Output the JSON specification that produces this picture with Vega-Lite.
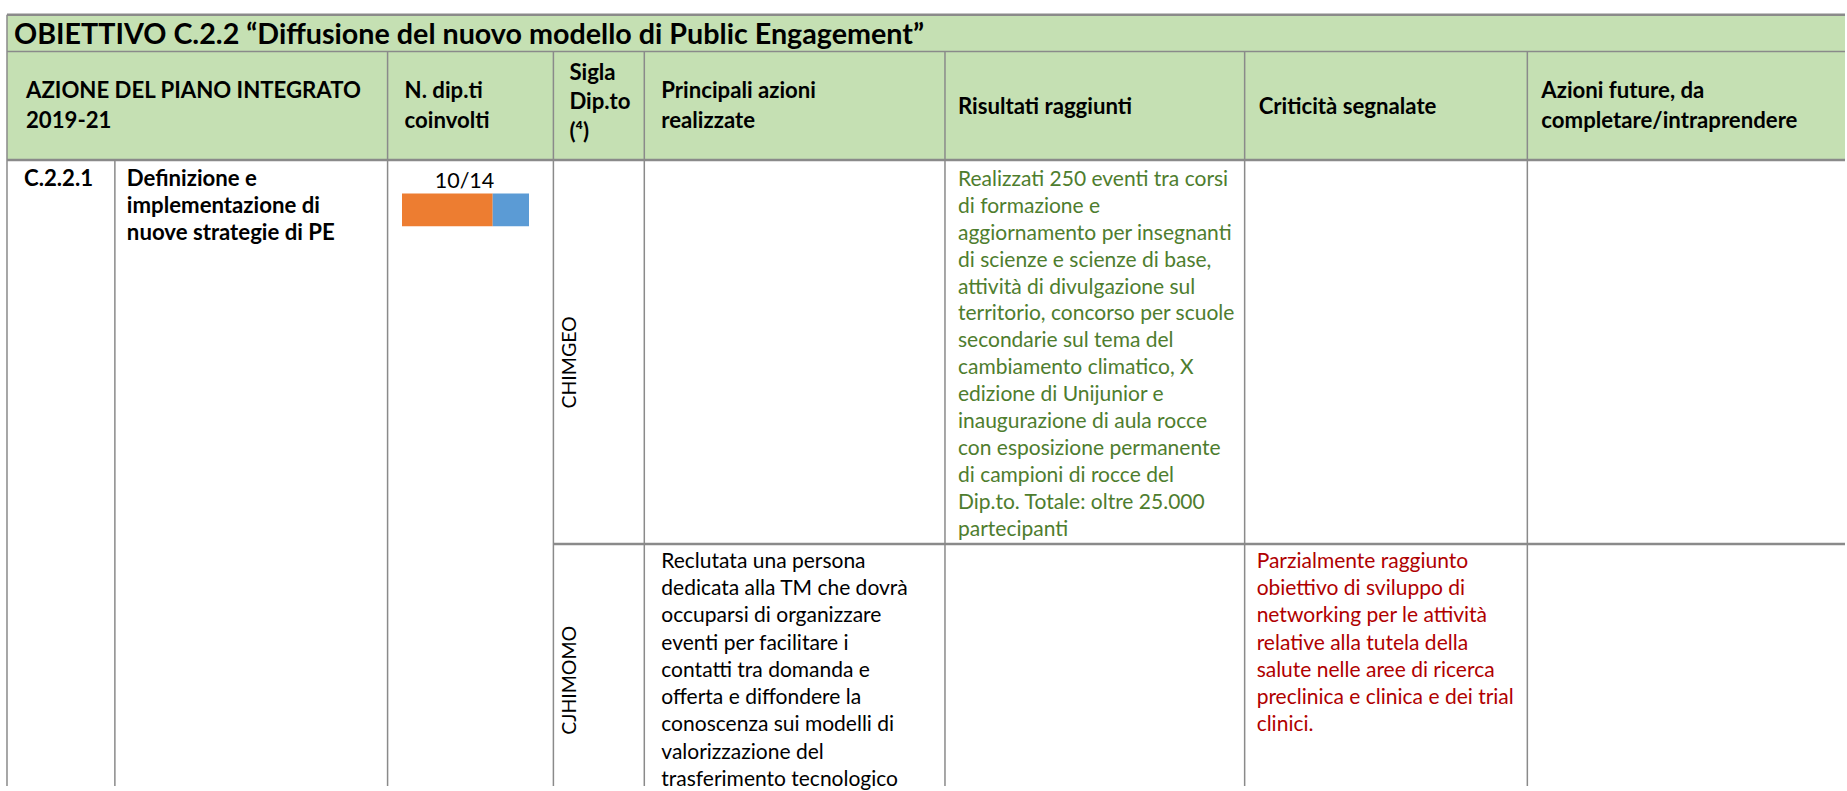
{
  "$schema": "https://vega.github.io/schema/vega-lite/v6.json",
  "width": 1847,
  "height": 791,
  "autosize": {"type": "fit", "contains": "padding"},
  "padding": 0,
  "background": "#ffffff",
  "config": {"view": {"stroke": null}},
  "datasets": {
    "fondo": [
      {"x": 7, "x2": 1847, "y": 10, "y2": 157}
    ],
    "righe": [
      {"x": 7, "x2": 1847, "y": 10, "y2": 10, "tipo": "spesso"},
      {"x": 7, "x2": 1847, "y": 47, "y2": 47, "tipo": "sottile"},
      {"x": 7, "x2": 1847, "y": 157, "y2": 157, "tipo": "spesso"},
      {"x": 554, "x2": 1847, "y": 546, "y2": 546, "tipo": "spesso"},
      {"x": 7, "x2": 7, "y": 10, "y2": 791, "tipo": "sottile"},
      {"x": 115, "x2": 115, "y": 157, "y2": 791, "tipo": "sottile"},
      {"x": 388, "x2": 388, "y": 47, "y2": 791, "tipo": "sottile"},
      {"x": 554, "x2": 554, "y": 47, "y2": 791, "tipo": "sottile"},
      {"x": 645, "x2": 645, "y": 47, "y2": 791, "tipo": "sottile"},
      {"x": 946, "x2": 946, "y": 47, "y2": 791, "tipo": "sottile"},
      {"x": 1246, "x2": 1246, "y": 47, "y2": 791, "tipo": "sottile"},
      {"x": 1529, "x2": 1529, "y": 47, "y2": 791, "tipo": "sottile"}
    ],
    "titolo": [
      {"x": 14, "y": 40, "testo": "OBIETTIVO C.2.2 “Diffusione del nuovo modello di Public Engagement”"}
    ],
    "intestazioni": [
      {"x": 26, "y": 94, "testo": "AZIONE DEL PIANO INTEGRATO"},
      {"x": 26, "y": 125, "testo": "2019-21"},
      {"x": 405, "y": 94, "testo": "N. dip.ti"},
      {"x": 405, "y": 125, "testo": "coinvolti"},
      {"x": 570, "y": 76, "testo": "Sigla"},
      {"x": 570, "y": 105, "testo": "Dip.to"},
      {"x": 570, "y": 136, "testo": "(⁴)"},
      {"x": 662, "y": 94, "testo": "Principali azioni"},
      {"x": 662, "y": 125, "testo": "realizzate"},
      {"x": 959, "y": 110, "testo": "Risultati raggiunti"},
      {"x": 1260, "y": 110, "testo": "Criticità segnalate"},
      {"x": 1543, "y": 94, "testo": "Azioni future, da"},
      {"x": 1543, "y": 125, "testo": "completare/intraprendere"}
    ],
    "celle": [
      {"colonna": "codice", "x": 24, "y": 183, "testo": "C.2.2.1"},
      {"colonna": "azione", "x": 127, "y": 183, "testo": "Definizione e"},
      {"colonna": "azione", "x": 127, "y": 210.3, "testo": "implementazione di"},
      {"colonna": "azione", "x": 127, "y": 237.6, "testo": "nuove strategie di PE"},
      {"colonna": "n_dip", "x": 465, "y": 185, "testo": "10/14"},
      {"colonna": "sigla", "x": 571, "y": 362, "testo": "CHIMGEO"},
      {"colonna": "sigla", "x": 571, "y": 684, "testo": "CJHIMOMO"},
      {"colonna": "risultati", "x": 959, "y": 183, "testo": "Realizzati 250 eventi tra corsi"},
      {"colonna": "risultati", "x": 959, "y": 210.3, "testo": "di formazione e"},
      {"colonna": "risultati", "x": 959, "y": 237.6, "testo": "aggiornamento per insegnanti"},
      {"colonna": "risultati", "x": 959, "y": 264.9, "testo": "di scienze e scienze di base,"},
      {"colonna": "risultati", "x": 959, "y": 292.2, "testo": "attività di divulgazione sul"},
      {"colonna": "risultati", "x": 959, "y": 319.5, "testo": "territorio, concorso per scuole"},
      {"colonna": "risultati", "x": 959, "y": 346.8, "testo": "secondarie sul tema del"},
      {"colonna": "risultati", "x": 959, "y": 374.1, "testo": "cambiamento climatico, X"},
      {"colonna": "risultati", "x": 959, "y": 401.4, "testo": "edizione di Unijunior e"},
      {"colonna": "risultati", "x": 959, "y": 428.7, "testo": "inaugurazione di aula rocce"},
      {"colonna": "risultati", "x": 959, "y": 456, "testo": "con esposizione permanente"},
      {"colonna": "risultati", "x": 959, "y": 483.3, "testo": "di campioni di rocce del"},
      {"colonna": "risultati", "x": 959, "y": 510.6, "testo": "Dip.to. Totale: oltre 25.000"},
      {"colonna": "risultati", "x": 959, "y": 537.9, "testo": "partecipanti"},
      {"colonna": "principali", "x": 662, "y": 570, "testo": "Reclutata una persona"},
      {"colonna": "principali", "x": 662, "y": 597.6, "testo": "dedicata alla TM che dovrà"},
      {"colonna": "principali", "x": 662, "y": 625.2, "testo": "occuparsi di organizzare"},
      {"colonna": "principali", "x": 662, "y": 652.8, "testo": "eventi per facilitare i"},
      {"colonna": "principali", "x": 662, "y": 680.4, "testo": "contatti tra domanda e"},
      {"colonna": "principali", "x": 662, "y": 708, "testo": "offerta e diffondere la"},
      {"colonna": "principali", "x": 662, "y": 735.6, "testo": "conoscenza sui modelli di"},
      {"colonna": "principali", "x": 662, "y": 763.2, "testo": "valorizzazione del"},
      {"colonna": "principali", "x": 662, "y": 790.8, "testo": "trasferimento tecnologico"},
      {"colonna": "criticita", "x": 1258, "y": 570, "testo": "Parzialmente raggiunto"},
      {"colonna": "criticita", "x": 1258, "y": 597.6, "testo": "obiettivo di sviluppo di"},
      {"colonna": "criticita", "x": 1258, "y": 625.2, "testo": "networking per le attività"},
      {"colonna": "criticita", "x": 1258, "y": 652.8, "testo": "relative alla tutela della"},
      {"colonna": "criticita", "x": 1258, "y": 680.4, "testo": "salute nelle aree di ricerca"},
      {"colonna": "criticita", "x": 1258, "y": 708, "testo": "preclinica e clinica e dei trial"},
      {"colonna": "criticita", "x": 1258, "y": 735.6, "testo": "clinici."}
    ],
    "dipartimenti": [
      {"gruppo": "coinvolti", "da": 0, "a": 10},
      {"gruppo": "non coinvolti", "da": 10, "a": 14}
    ]
  },
  "resolve": {"scale": {"x": "independent", "color": "independent"}},
  "layer": [
    {
      "data": {"name": "fondo"},
      "mark": {"type": "rect", "color": "#C5E0B3"},
      "encoding": {
        "x": {"field": "x", "type": "quantitative", "scale": {"domain": [0, 1847], "nice": false, "zero": false}, "axis": null},
        "x2": {"field": "x2"},
        "y": {"field": "y", "type": "quantitative", "scale": {"domain": [0, 791], "nice": false, "zero": false, "reverse": true}, "axis": null},
        "y2": {"field": "y2"}
      }
    },
    {
      "data": {"name": "dipartimenti"},
      "mark": {"type": "bar", "orient": "horizontal"},
      "encoding": {
        "x": {"field": "da", "type": "quantitative", "scale": {"domain": [0, 14], "range": [402, 529], "nice": false, "zero": false}, "axis": null},
        "x2": {"field": "a"},
        "y": {"datum": 191, "type": "quantitative", "scale": {"domain": [0, 791], "nice": false, "zero": false, "reverse": true}, "axis": null},
        "y2": {"datum": 224},
        "color": {"field": "gruppo", "type": "nominal", "scale": {"domain": ["coinvolti", "non coinvolti"], "range": ["#ED7D31", "#5B9BD5"]}, "legend": null}
      }
    },
    {
      "data": {"name": "righe"},
      "mark": {"type": "rule", "color": "#8a8a8a"},
      "encoding": {
        "x": {"field": "x", "type": "quantitative", "scale": {"domain": [0, 1847], "nice": false, "zero": false}, "axis": null},
        "x2": {"field": "x2"},
        "y": {"field": "y", "type": "quantitative", "scale": {"domain": [0, 791], "nice": false, "zero": false, "reverse": true}, "axis": null},
        "y2": {"field": "y2"},
        "strokeWidth": {"field": "tipo", "type": "nominal", "scale": {"domain": ["spesso", "sottile"], "range": [2.5, 1.5]}, "legend": null}
      }
    },
    {
      "data": {"name": "titolo"},
      "mark": {"type": "text", "align": "left", "baseline": "alphabetic", "font": "Lato", "fontWeight": "bold", "fontSize": 28.7, "color": "#000000"},
      "encoding": {
        "x": {"field": "x", "type": "quantitative", "scale": {"domain": [0, 1847], "nice": false, "zero": false}, "axis": null},
        "y": {"field": "y", "type": "quantitative", "scale": {"domain": [0, 791], "nice": false, "zero": false, "reverse": true}, "axis": null},
        "text": {"field": "testo"}
      }
    },
    {
      "data": {"name": "intestazioni"},
      "mark": {"type": "text", "align": "left", "baseline": "alphabetic", "font": "Lato", "fontWeight": "bold", "fontSize": 22.2, "color": "#000000"},
      "encoding": {
        "x": {"field": "x", "type": "quantitative", "scale": {"domain": [0, 1847], "nice": false, "zero": false}, "axis": null},
        "y": {"field": "y", "type": "quantitative", "scale": {"domain": [0, 791], "nice": false, "zero": false, "reverse": true}, "axis": null},
        "text": {"field": "testo"}
      }
    },
    {
      "data": {"name": "celle"},
      "transform": [{"filter": {"field": "colonna", "oneOf": ["codice", "azione"]}}],
      "mark": {"type": "text", "align": "left", "baseline": "alphabetic", "font": "Lato", "fontWeight": "bold", "fontSize": 22.2, "color": "#000000"},
      "encoding": {
        "x": {"field": "x", "type": "quantitative", "scale": {"domain": [0, 1847], "nice": false, "zero": false}, "axis": null},
        "y": {"field": "y", "type": "quantitative", "scale": {"domain": [0, 791], "nice": false, "zero": false, "reverse": true}, "axis": null},
        "text": {"field": "testo"}
      }
    },
    {
      "data": {"name": "celle"},
      "transform": [{"filter": {"field": "colonna", "oneOf": ["principali", "risultati", "criticita"]}}],
      "mark": {"type": "text", "align": "left", "baseline": "alphabetic", "font": "Lato", "fontSize": 21},
      "encoding": {
        "x": {"field": "x", "type": "quantitative", "scale": {"domain": [0, 1847], "nice": false, "zero": false}, "axis": null},
        "y": {"field": "y", "type": "quantitative", "scale": {"domain": [0, 791], "nice": false, "zero": false, "reverse": true}, "axis": null},
        "text": {"field": "testo"},
        "color": {"field": "colonna", "type": "nominal", "scale": {"domain": ["principali", "risultati", "criticita"], "range": ["#000000", "#4E7D2E", "#B00000"]}, "legend": null}
      }
    },
    {
      "data": {"name": "celle"},
      "transform": [{"filter": {"field": "colonna", "equal": "n_dip"}}],
      "mark": {"type": "text", "align": "center", "baseline": "alphabetic", "font": "Lato", "fontSize": 21.5, "color": "#000000"},
      "encoding": {
        "x": {"field": "x", "type": "quantitative", "scale": {"domain": [0, 1847], "nice": false, "zero": false}, "axis": null},
        "y": {"field": "y", "type": "quantitative", "scale": {"domain": [0, 791], "nice": false, "zero": false, "reverse": true}, "axis": null},
        "text": {"field": "testo"}
      }
    },
    {
      "data": {"name": "celle"},
      "transform": [{"filter": {"field": "colonna", "equal": "sigla"}}],
      "mark": {"type": "text", "align": "center", "baseline": "middle", "angle": 270, "font": "Lato", "fontSize": 19.5, "color": "#000000"},
      "encoding": {
        "x": {"field": "x", "type": "quantitative", "scale": {"domain": [0, 1847], "nice": false, "zero": false}, "axis": null},
        "y": {"field": "y", "type": "quantitative", "scale": {"domain": [0, 791], "nice": false, "zero": false, "reverse": true}, "axis": null},
        "text": {"field": "testo"}
      }
    }
  ]
}
